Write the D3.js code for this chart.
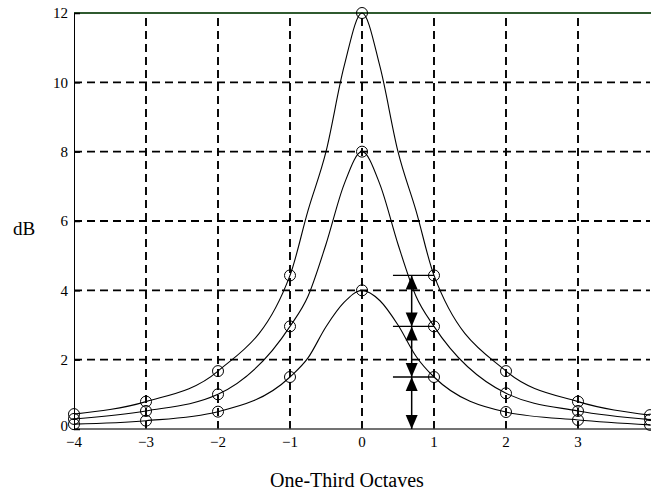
<!DOCTYPE html>
<html>
<head>
<meta charset="utf-8">
<script src="https://cdn.jsdelivr.net/npm/d3@7"></script>
<style>
  body { margin: 0; background: #fff; }
</style>
</head>
<body>
<svg id="chart" width="651" height="493"></svg>
<script>
// one-third octave offsets where the curves are sampled
var curveX = [-4, -3, -2, -1, -0.75, -0.5, -0.25, 0, 0.25, 0.5, 0.75, 1, 2, 3, 4];
var peak12 = [0.43, 0.79, 1.67, 4.43, 6.3, 8.0, 10.45, 12, 10.45, 8.0, 6.3, 4.43, 1.67, 0.79, 0.40];
var peak8  = [0.29, 0.52, 1.0, 2.96, 3.83, 5.33, 7.05, 8, 7.05, 5.33, 3.83, 2.96, 1.03, 0.52, 0.27];
var peak4  = [0.14, 0.24, 0.5, 1.5, 2.05, 2.95, 3.65, 4, 3.7, 3.0, 2.1, 1.5, 0.49, 0.26, 0.12];

var xTicks = [-4, -3, -2, -1, 0, 1, 2, 3];
var yTicks = [0, 2, 4, 6, 8, 10, 12];
var xGrid = [-3, -2, -1, 0, 1, 2, 3];
var yGrid = [2, 4, 6, 8, 10];

// step annotation next to x = 1
var arrowX = 0.69;
var arrowLevels = [4.43, 2.96, 1.5, 0];
var levelStart = 0.43;
var levelEnd = 1;

var serif = "'Liberation Serif', 'Times New Roman', serif";
var margin = {top: 13, right: 1, bottom: 64, left: 74};
var width = 651, height = 493;

var svg = d3.select("#chart");

var x = d3.scaleLinear().domain([-4, 4]).range([margin.left, width - margin.right]);
var y = d3.scaleLinear().domain([0, 12]).range([height - margin.bottom, margin.top]);

var series = [peak12, peak8, peak4];

// grid
svg.append("g").selectAll("line")
    .data(xGrid).enter().append("line")
    .attr("x1", function(d) { return x(d); })
    .attr("x2", function(d) { return x(d); })
    .attr("y1", y(0)).attr("y2", y(12))
    .attr("stroke", "#000").attr("stroke-width", 1.9)
    .attr("stroke-dasharray", "8,5");

svg.append("g").selectAll("line")
    .data(yGrid).enter().append("line")
    .attr("x1", x(-4)).attr("x2", x(4))
    .attr("y1", function(d) { return y(d); })
    .attr("y2", function(d) { return y(d); })
    .attr("stroke", "#000").attr("stroke-width", 1.9)
    .attr("stroke-dasharray", "8,5");

// frame
svg.append("line")
    .attr("x1", x(-4)).attr("x2", width)
    .attr("y1", y(12)).attr("y2", y(12))
    .attr("stroke", "#2f5a2f").attr("stroke-width", 2);
svg.append("line")
    .attr("x1", x(-4)).attr("x2", width)
    .attr("y1", y(0)).attr("y2", y(0))
    .attr("stroke", "#444").attr("stroke-width", 1.5);

// y axis
var yAxis = svg.append("g")
    .attr("transform", "translate(" + x(-4) + ",0)")
    .call(d3.axisLeft(y).tickValues(yTicks).tickSize(-6).tickPadding(6).tickFormat(d3.format("d")));
yAxis.attr("font-family", null).attr("font-size", null);
yAxis.select(".domain").attr("stroke", "#000").attr("stroke-width", 1);
yAxis.selectAll(".tick line").attr("stroke", "#000").attr("stroke-width", 1.5);
yAxis.selectAll("text")
    .style("font-size", "15px")
    .style("font-family", serif)
    .attr("fill", "#000");
// lift the zero label a touch so it clears the -4 below it
yAxis.selectAll(".tick text").filter(function(d) { return d === 0; }).attr("dy", "0.1em");

// x labels
svg.append("g").selectAll("text")
    .data(xTicks).enter().append("text")
    .attr("x", function(d) { return x(d); })
    .attr("y", y(0) + 18)
    .attr("text-anchor", "middle")
    .style("font-size", "15px")
    .style("font-family", serif)
    .text(function(d) { return d < 0 ? "\u2212" + Math.abs(d) : d; });

// curves
var line = d3.line()
    .x(function(d, i) { return x(curveX[i]); })
    .y(function(d) { return y(d); })
    .curve(d3.curveMonotoneX);

svg.append("g").selectAll("path")
    .data(series).enter().append("path")
    .attr("d", line)
    .attr("fill", "none")
    .attr("stroke", "#000")
    .attr("stroke-width", 1.1);

// markers at whole octave-thirds
series.forEach(function(s) {
    var pts = curveX.map(function(cx, i) { return [cx, s[i]]; })
        .filter(function(p) { return p[0] === Math.round(p[0]); });
    svg.append("g").selectAll("circle")
        .data(pts).enter().append("circle")
        .attr("cx", function(p) { return x(p[0]); })
        .attr("cy", function(p) { return y(p[1]); })
        .attr("r", 5.5)
        .attr("fill", "none")
        .attr("stroke", "#000")
        .attr("stroke-width", 1);
});

// level lines
svg.append("g").selectAll("line")
    .data(arrowLevels.slice(0, 3)).enter().append("line")
    .attr("x1", x(levelStart)).attr("x2", x(levelEnd))
    .attr("y1", function(d) { return y(d); })
    .attr("y2", function(d) { return y(d); })
    .attr("stroke", "#000").attr("stroke-width", 1.3);

// double arrows between levels
var ax = x(arrowX);
svg.append("line")
    .attr("x1", ax).attr("x2", ax)
    .attr("y1", y(arrowLevels[0])).attr("y2", y(arrowLevels[arrowLevels.length - 1]))
    .attr("stroke", "#000").attr("stroke-width", 1.5);

var ah = 14, aw = 6;
for (var i = 0; i < arrowLevels.length - 1; i++) {
    var upY = y(arrowLevels[i]), downY = y(arrowLevels[i + 1]);
    svg.append("path")
        .attr("d", "M" + ax + "," + upY + "L" + (ax - aw) + "," + (upY + ah) + "L" + (ax + aw) + "," + (upY + ah) + "Z")
        .attr("fill", "#000");
    svg.append("path")
        .attr("d", "M" + ax + "," + downY + "L" + (ax - aw) + "," + (downY - ah) + "L" + (ax + aw) + "," + (downY - ah) + "Z")
        .attr("fill", "#000");
}

// axis titles
svg.append("text")
    .attr("x", 13).attr("y", 235)
    .style("font-size", "19px")
    .style("font-family", serif)
    .text("dB");

svg.append("text")
    .attr("x", x(0) - 15).attr("y", 487)
    .attr("text-anchor", "middle")
    .style("font-size", "20px")
    .style("font-family", serif)
    .text("One-Third Octaves");
</script>
</body>
</html>
